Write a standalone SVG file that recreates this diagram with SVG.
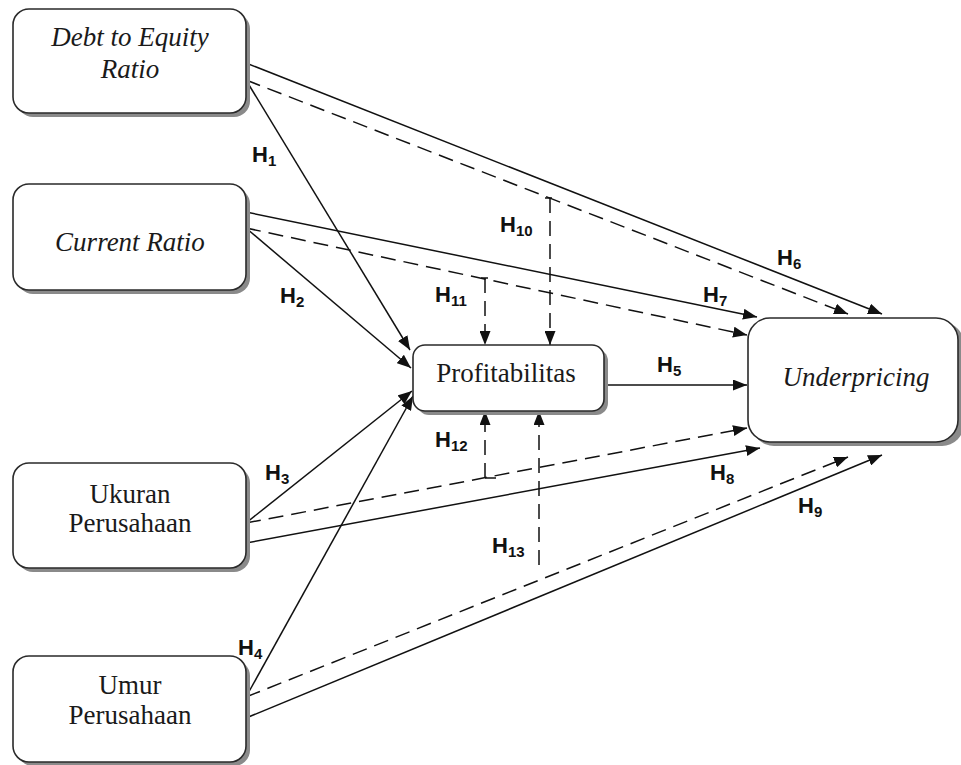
<svg xmlns="http://www.w3.org/2000/svg" width="961" height="765" viewBox="0 0 961 765">
<style>
.box{fill:#fff;stroke:#2a2a2a;stroke-width:1.6}
.shadow{fill:#8a8a8a}
.t{font-family:"Liberation Serif",serif;font-size:27px;fill:#1a1a1a;text-anchor:middle}
.i{font-style:italic}
.ln{stroke:#111;stroke-width:1.5;fill:none}
.d{stroke-dasharray:15 8}
.lb{font-family:"Liberation Sans",Arial,sans-serif;font-weight:bold;font-size:22px;fill:#111}
.sub{font-size:15px}
</style>
<defs>
<marker id="ah" viewBox="0 0 14 11" refX="14" refY="5.5" markerWidth="14" markerHeight="11" markerUnits="userSpaceOnUse" orient="auto">
<path d="M0,0 L14,5.5 L0,11 z" fill="#111"/>
</marker>
</defs>

<g id="connectors">
<line class="ln" x1="246" y1="80" x2="410" y2="350" marker-end="url(#ah)"/>
<line class="ln" x1="246" y1="228" x2="411" y2="368" marker-end="url(#ah)"/>
<line class="ln" x1="246" y1="523" x2="412" y2="391" marker-end="url(#ah)"/>
<line class="ln" x1="246" y1="697" x2="413" y2="396" marker-end="url(#ah)"/>
<line class="ln" x1="246" y1="63" x2="882" y2="314" marker-end="url(#ah)"/>
<line class="ln d" x1="246" y1="80" x2="848" y2="314" marker-end="url(#ah)"/>
<line class="ln" x1="246" y1="212" x2="757" y2="317" marker-end="url(#ah)"/>
<line class="ln d" x1="246" y1="228" x2="747" y2="335" marker-end="url(#ah)"/>
<line class="ln" x1="604" y1="385" x2="747" y2="385" marker-end="url(#ah)"/>
<line class="ln d" x1="246" y1="523" x2="747" y2="428" marker-end="url(#ah)"/>
<line class="ln" x1="246" y1="543" x2="760" y2="448" marker-end="url(#ah)"/>
<line class="ln d" x1="246" y1="697" x2="848" y2="457" marker-end="url(#ah)"/>
<line class="ln" x1="246" y1="718" x2="882" y2="455" marker-end="url(#ah)"/>
<line class="ln d" x1="550" y1="198" x2="550" y2="345" marker-end="url(#ah)"/>
<line class="ln" x1="545" y1="198" x2="552" y2="198"/>
<line class="ln d" x1="485" y1="278" x2="485" y2="345" marker-end="url(#ah)"/>
<line class="ln" x1="481" y1="278" x2="488" y2="278"/>
<line class="ln d" x1="485" y1="478" x2="485" y2="411" marker-end="url(#ah)"/>
<line class="ln" x1="485" y1="478" x2="496" y2="478"/>
<line class="ln d" x1="539" y1="565" x2="539" y2="411" marker-end="url(#ah)"/>
</g>

<g id="der">
<rect class="shadow" x="17" y="13" width="233" height="104" rx="16"/>
<rect class="box" x="13" y="9" width="233" height="104" rx="16"/>
<text class="t i" x="130" y="46">Debt to Equity</text>
<text class="t i" x="130" y="78">Ratio</text>
</g>
<g id="cr">
<rect class="shadow" x="17" y="188" width="233" height="106" rx="16"/>
<rect class="box" x="13" y="184" width="233" height="106" rx="16"/>
<text class="t i" x="130" y="251">Current Ratio</text>
</g>
<g id="ukuran">
<rect class="shadow" x="17" y="467" width="233" height="105" rx="16"/>
<rect class="box" x="13" y="463" width="233" height="105" rx="16"/>
<text class="t" x="130" y="503">Ukuran</text>
<text class="t" x="130" y="532">Perusahaan</text>
</g>
<g id="umur">
<rect class="shadow" x="17" y="660" width="233" height="106" rx="16"/>
<rect class="box" x="13" y="656" width="233" height="106" rx="16"/>
<text class="t" x="130" y="694">Umur</text>
<text class="t" x="130" y="724">Perusahaan</text>
</g>
<g id="profitabilitas">
<rect class="shadow" x="417" y="349" width="191" height="66" rx="12"/>
<rect class="box" x="413" y="345" width="191" height="66" rx="12"/>
<text class="t" x="506" y="382">Profitabilitas</text>
</g>
<g id="underpricing">
<rect class="shadow" x="752" y="322" width="212" height="124" rx="22"/>
<rect class="box" x="748" y="318" width="210" height="124" rx="22"/>
<text class="t i" x="856" y="386">Underpricing</text>
</g>

<g id="labels">
<text class="lb" x="252" y="162">H<tspan class="sub" dy="4">1</tspan></text>
<text class="lb" x="280" y="303">H<tspan class="sub" dy="4">2</tspan></text>
<text class="lb" x="265" y="480">H<tspan class="sub" dy="4">3</tspan></text>
<text class="lb" x="238" y="655">H<tspan class="sub" dy="4">4</tspan></text>
<text class="lb" x="657" y="372">H<tspan class="sub" dy="4">5</tspan></text>
<text class="lb" x="777" y="265">H<tspan class="sub" dy="4">6</tspan></text>
<text class="lb" x="703" y="302">H<tspan class="sub" dy="4">7</tspan></text>
<text class="lb" x="710" y="480">H<tspan class="sub" dy="4">8</tspan></text>
<text class="lb" x="798" y="513">H<tspan class="sub" dy="4">9</tspan></text>
<text class="lb" x="500" y="232">H<tspan class="sub" dy="4">10</tspan></text>
<text class="lb" x="435" y="302">H<tspan class="sub" dy="4">11</tspan></text>
<text class="lb" x="435" y="447">H<tspan class="sub" dy="4">12</tspan></text>
<text class="lb" x="492" y="553">H<tspan class="sub" dy="4">13</tspan></text>
</g>
</svg>
